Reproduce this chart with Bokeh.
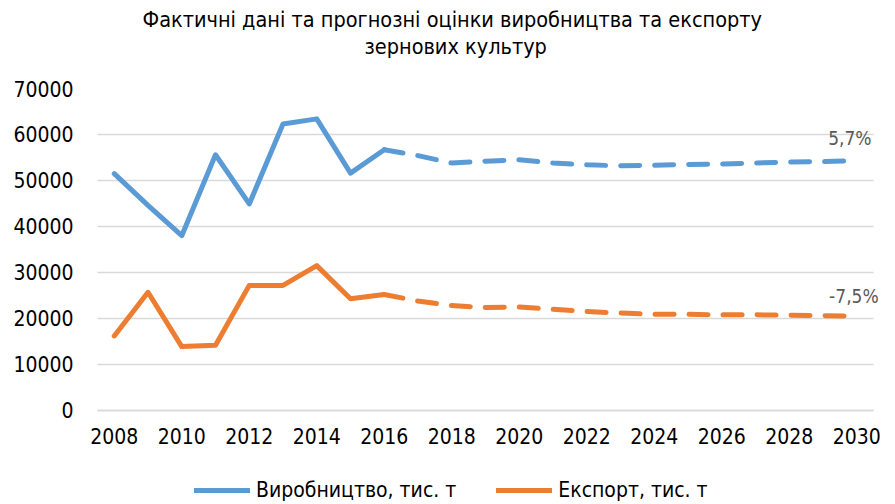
from bokeh.plotting import figure
from bokeh.models import Range1d, FixedTicker, Legend, LegendItem, Label, Title
from bokeh.embed import file_html
from bokeh.resources import INLINE

title_line1 = "Фактичні дані та прогнозні оцінки виробництва та експорту"
title_line2 = "зернових культур"

years_actual = [2008, 2009, 2010, 2011, 2012, 2013, 2014, 2015, 2016]
production_actual = [51500, 44600, 38000, 55600, 44900, 62300, 63400, 51600, 56700]
export_actual = [16200, 25700, 13900, 14200, 27200, 27200, 31500, 24300, 25200]

years_forecast = [2016, 2017, 2018, 2019, 2020, 2021, 2022, 2023, 2024, 2025, 2026, 2027, 2028, 2029, 2030]
production_forecast = [56700, 55400, 53800, 54200, 54500, 53800, 53400, 53200, 53300, 53500, 53600, 53800, 54000, 54100, 54300]
export_forecast = [25200, 23800, 22800, 22400, 22500, 22000, 21500, 21200, 20900, 20900, 20800, 20800, 20700, 20600, 20500]

x_ticks = [2008, 2010, 2012, 2014, 2016, 2018, 2020, 2022, 2024, 2026, 2028, 2030]
y_ticks = [0, 10000, 20000, 30000, 40000, 50000, 60000, 70000]

series_names = ["Виробництво, тис. т", "Експорт, тис. т"]
change_labels = ["5,7%", "-7,5%"]

BLUE = "#5B9BD5"
ORANGE = "#ED7D31"
GRID = "#D9D9D9"
FONT = "DejaVu Sans Condensed"

# frame spans from y=88 to the bottom of the canvas; value 0 sits 94 px above it
p = figure(width=895, height=504, output_backend="svg", toolbar_location=None,
           x_range=Range1d(2007.0, 2031.0), y_range=Range1d(-20435, 70000),
           min_border_left=80, min_border_right=5, min_border_top=88, min_border_bottom=0)
p.title = None
p.outline_line_color = None
p.background_fill_color = "white"
p.border_fill_color = "white"

# title (stacked upward from the frame: spacer, line 2, line 1)
p.add_layout(Title(text=" ", text_font=FONT, text_font_size="10px", standoff=17), "above")
p.add_layout(Title(text=title_line2, align="left", offset=284, text_font=FONT,
                   text_font_size="21.5px", text_font_style="normal", text_color="#000000",
                   standoff=0), "above")
p.add_layout(Title(text=title_line1, align="left", offset=62, text_font=FONT,
                   text_font_size="21.5px", text_font_style="normal", text_color="#000000",
                   standoff=0), "above")

# axes
p.xaxis.ticker = FixedTicker(ticks=x_ticks)
p.yaxis.ticker = FixedTicker(ticks=y_ticks)
p.xaxis.fixed_location = 0
p.xaxis.bounds = (2007.5, 2030.5)
p.xaxis.axis_line_color = GRID
p.xaxis.axis_line_width = 1.5
p.yaxis.axis_line_color = None
for ax in (p.xaxis, p.yaxis):
    ax.major_tick_line_color = None
    ax.minor_tick_line_color = None
    ax.major_tick_out = 0
    ax.major_tick_in = 0
    ax.major_label_text_font = FONT
    ax.major_label_text_font_size = "21px"
    ax.major_label_text_color = "#000000"
p.yaxis.major_label_standoff = 7
p.xaxis.major_label_standoff = 18
p.xgrid.grid_line_color = None
p.ygrid.grid_line_color = GRID
p.ygrid.grid_line_width = 1.5
p.ygrid.cross_bounds = (2007.5, 2030.5)

# lines
r_prod = p.line(years_actual, production_actual, line_color=BLUE, line_width=5, line_join="round", line_cap="round")
p.line(years_forecast, production_forecast, line_color=BLUE, line_width=5, line_dash="19 15", line_cap="round", line_join="round")
r_exp = p.line(years_actual, export_actual, line_color=ORANGE, line_width=5, line_join="round", line_cap="round")
p.line(years_forecast, export_forecast, line_color=ORANGE, line_width=5, line_dash="19 15", line_cap="round", line_join="round")

p.add_layout(Label(x=2030.44, y=59300, text=change_labels[0], text_align="right", text_baseline="middle",
                   text_font=FONT, text_font_size="19px", text_color="#595959"))
p.add_layout(Label(x=2030.65, y=24900, text=change_labels[1], text_align="right", text_baseline="middle",
                   text_font=FONT, text_font_size="19px", text_color="#595959"))

legend = Legend(items=[LegendItem(label=series_names[0], renderers=[r_prod]),
                       LegendItem(label=series_names[1], renderers=[r_exp])],
                orientation="horizontal", location=(114, 2),
                label_text_font=FONT, label_text_font_size="21px", label_text_color="#000000",
                glyph_width=56, glyph_height=20, spacing=40, label_standoff=6,
                border_line_color=None, background_fill_alpha=0, margin=0, padding=2)
p.add_layout(legend, "center")

open("out.html", "w").write(file_html(p, INLINE))
